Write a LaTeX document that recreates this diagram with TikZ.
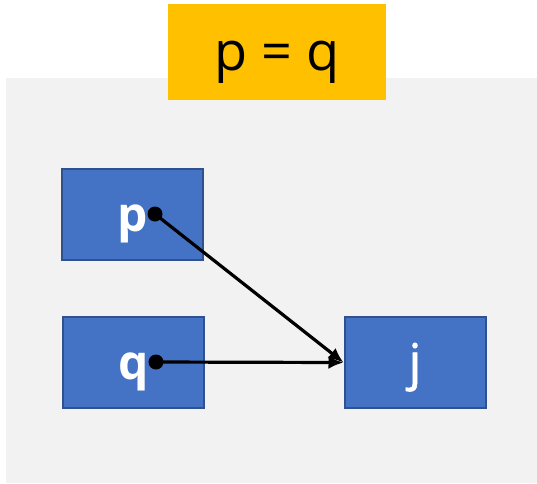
\documentclass[tikz,border=0pt]{standalone}
\usepackage{fontspec}
\setmainfont{Open Sans}
\newfontfamily\jfont[FakeBold=1.2]{Open Sans}
\usetikzlibrary{arrows.meta}
\definecolor{boxblue}{HTML}{4472C4}
\definecolor{boxedge}{HTML}{2F528F}
\definecolor{titleorange}{HTML}{FFC000}
\definecolor{bggray}{HTML}{F2F2F2}
\tikzset{
  varbox/.style={draw=boxedge, line width=2pt, fill=boxblue, text=white,
    minimum width=141pt, minimum height=91pt, inner sep=0pt,
    text height=34pt, text depth=0pt,
    font=\fontsize{48}{48}\selectfont\bfseries},
  targetbox/.style={varbox, font=\fontsize{50}{50}\selectfont\jfont},
  ptr/.style={line width=3.2pt, -{Latex[length=15pt,width=13pt]}},
  dot/.style={circle, fill=black, inner sep=0pt, minimum size=15pt},
}
\begin{document}
\begin{tikzpicture}[x=1pt,y=-1pt]
\useasboundingbox (0,0) rectangle (537,483);
\fill[bggray] (6,78) rectangle (537,483);
\node[fill=titleorange, minimum width=218pt, minimum height=96pt, inner sep=0pt,
  text height=36pt, text depth=0pt,
  font=\fontsize{54}{54}\selectfont] (title) at (277,52) {p = q};
\node[varbox] (p) at (132.5,214.5) {p};
\node[varbox] (q) at (133.5,362) {q};
\node[targetbox] (j) at (415,362.5) {j};
\node[dot] (pd) at (155,214) {};
\node[dot] (qd) at (156,362) {};
\draw[ptr] (pd.center) -- (j.west);
\draw[ptr] (qd.center) -- (j.west);
\end{tikzpicture}
\end{document}
